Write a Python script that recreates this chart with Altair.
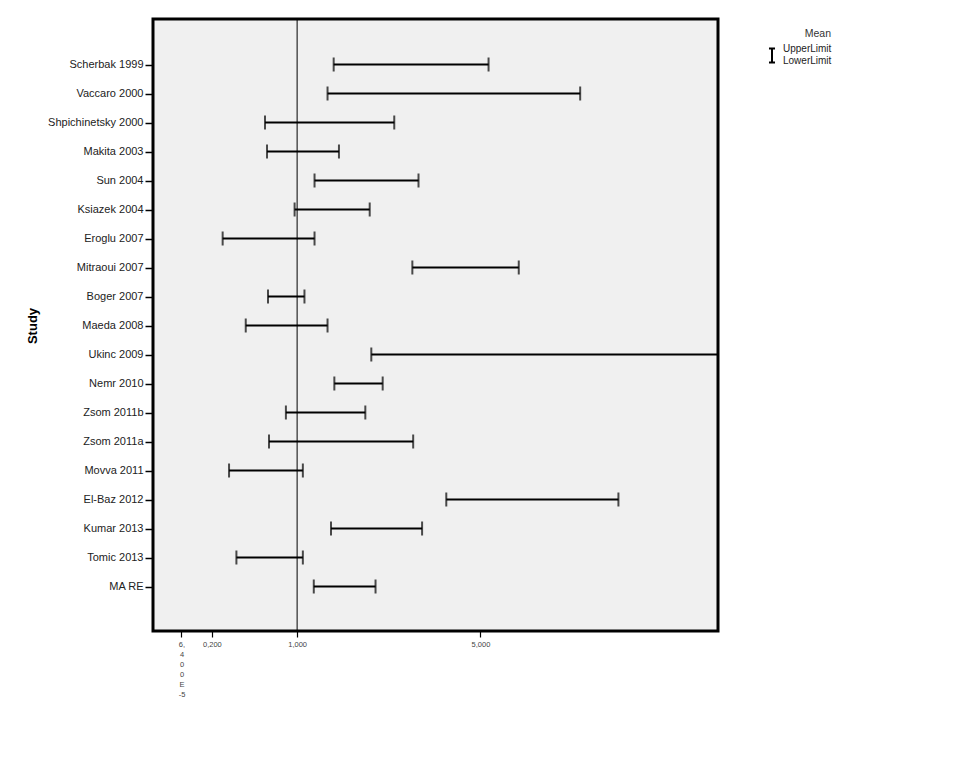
import altair as alt
import pandas as pd

studies = ["Scherbak 1999", "Vaccaro 2000", "Shpichinetsky 2000", "Makita 2003",
           "Sun 2004", "Ksiazek 2004", "Eroglu 2007", "Mitraoui 2007", "Boger 2007",
           "Maeda 2008", "Ukinc 2009", "Nemr 2010", "Zsom 2011b", "Zsom 2011a",
           "Movva 2011", "El-Baz 2012", "Kumar 2013", "Tomic 2013", "MA RE"]
lower = [1.49, 1.40, 0.65, 0.67, 1.22, 0.97, 0.28, 2.99, 0.68, 0.47,
         2.12, 1.50, 0.87, 0.69, 0.33, 3.89, 1.45, 0.39, 1.21]
upper = [5.30, 9.91, 2.58, 1.57, 3.14, 2.09, 1.22, 6.55, 1.09, 1.40,
         30.0, 2.34, 2.01, 3.01, 1.07, 12.72, 3.23, 1.07, 2.20]
tick_values = [0.000064, 0.2, 1, 5]
ref_value = 1

df = pd.DataFrame({"Study": studies, "LowerLimit": lower, "UpperLimit": upper})

FONT = "Liberation Sans"
xscale = alt.Scale(type="symlog", constant=1, domain=[-0.186, 23.92], nice=False, zero=False)
yscale = alt.Scale(type="point", range=[45.5, 567.5], padding=0)

xaxis = alt.Axis(
    values=tick_values, grid=False, domain=False, title=None,
    tickColor="black", tickSize=6, tickWidth=1.2,
    labelFontSize=7.5, labelColor="#444", labelFont=FONT,
    labelPadding=3, labelBaseline="top", labelLineHeight=10,
    labelFlush=False, labelOverlap=False, labelBound=False,
    labelExpr="datum.value < 0.01 ? ['6,','4','0','0','E','-5'] : replace(format(datum.value, '.3f'), '.', ',')",
)
yaxis = alt.Axis(
    grid=False, domain=False, title="Study",
    titleFontSize=13, titleFontWeight="bold", titleFont=FONT, titleColor="black",
    titlePadding=8,
    labelFontSize=11, labelColor="#222", labelFont=FONT, labelPadding=2,
    tickColor="black", tickSize=8, tickWidth=1.5,
)
y = alt.Y("Study:N", sort=studies, scale=yscale, axis=yaxis)

base = alt.Chart(df)

ref = alt.Chart(pd.DataFrame({"ref": [ref_value]})).mark_rule(
    color="black", strokeWidth=1
).encode(x=alt.X("ref:Q", scale=xscale, axis=xaxis))

bars = base.mark_rule(color="black", strokeWidth=2, clip=True).encode(
    x=alt.X("LowerLimit:Q", scale=xscale, axis=xaxis),
    x2="UpperLimit:Q",
    y=y,
)

caps = base.transform_fold(["LowerLimit", "UpperLimit"], as_=["kind", "value"]).mark_tick(
    color="black", thickness=2, size=14, clip=True
).encode(
    x=alt.X("value:Q", scale=xscale, axis=xaxis),
    y=y,
)

ibeam = "M0,-0.71L0,1.29M-0.43,-0.71L0.43,-0.71M-0.43,1.29L0.43,1.29"
legend_layer = base.transform_calculate(lg="'UpperLimit'").mark_point(
    opacity=0, filled=False, color="black"
).encode(
    x=alt.X("LowerLimit:Q", scale=xscale, axis=xaxis),
    y=y,
    shape=alt.Shape(
        "lg:N",
        scale=alt.Scale(domain=["UpperLimit"], range=[ibeam]),
        legend=alt.Legend(
            title="Mean", orient="none", legendX=611, legendY=10,
            titleFontSize=10.5, titleFontWeight="normal", titleColor="#333", titleFont=FONT,
            titleAlign="right", titleAnchor="end", titlePadding=6,
            labelFontSize=10, labelColor="#222", labelFont=FONT, labelOffset=3,
            labelBaseline="bottom",
            labelExpr="['UpperLimit','LowerLimit']",
            symbolOpacity=1, symbolStrokeColor="black", symbolStrokeWidth=2,
            symbolSize=196, padding=0,
        ),
    ),
)

chart = alt.layer(ref, bars, caps, legend_layer).properties(
    width=565, height=612,
    padding={"left": 18, "top": 10, "right": 5, "bottom": 5},
    background="white",
).configure(font=FONT).configure_view(
    stroke="black", strokeWidth=3, fill="#f0f0f0"
)

chart.save("out.html", embed_options={"renderer": "svg", "actions": False})
